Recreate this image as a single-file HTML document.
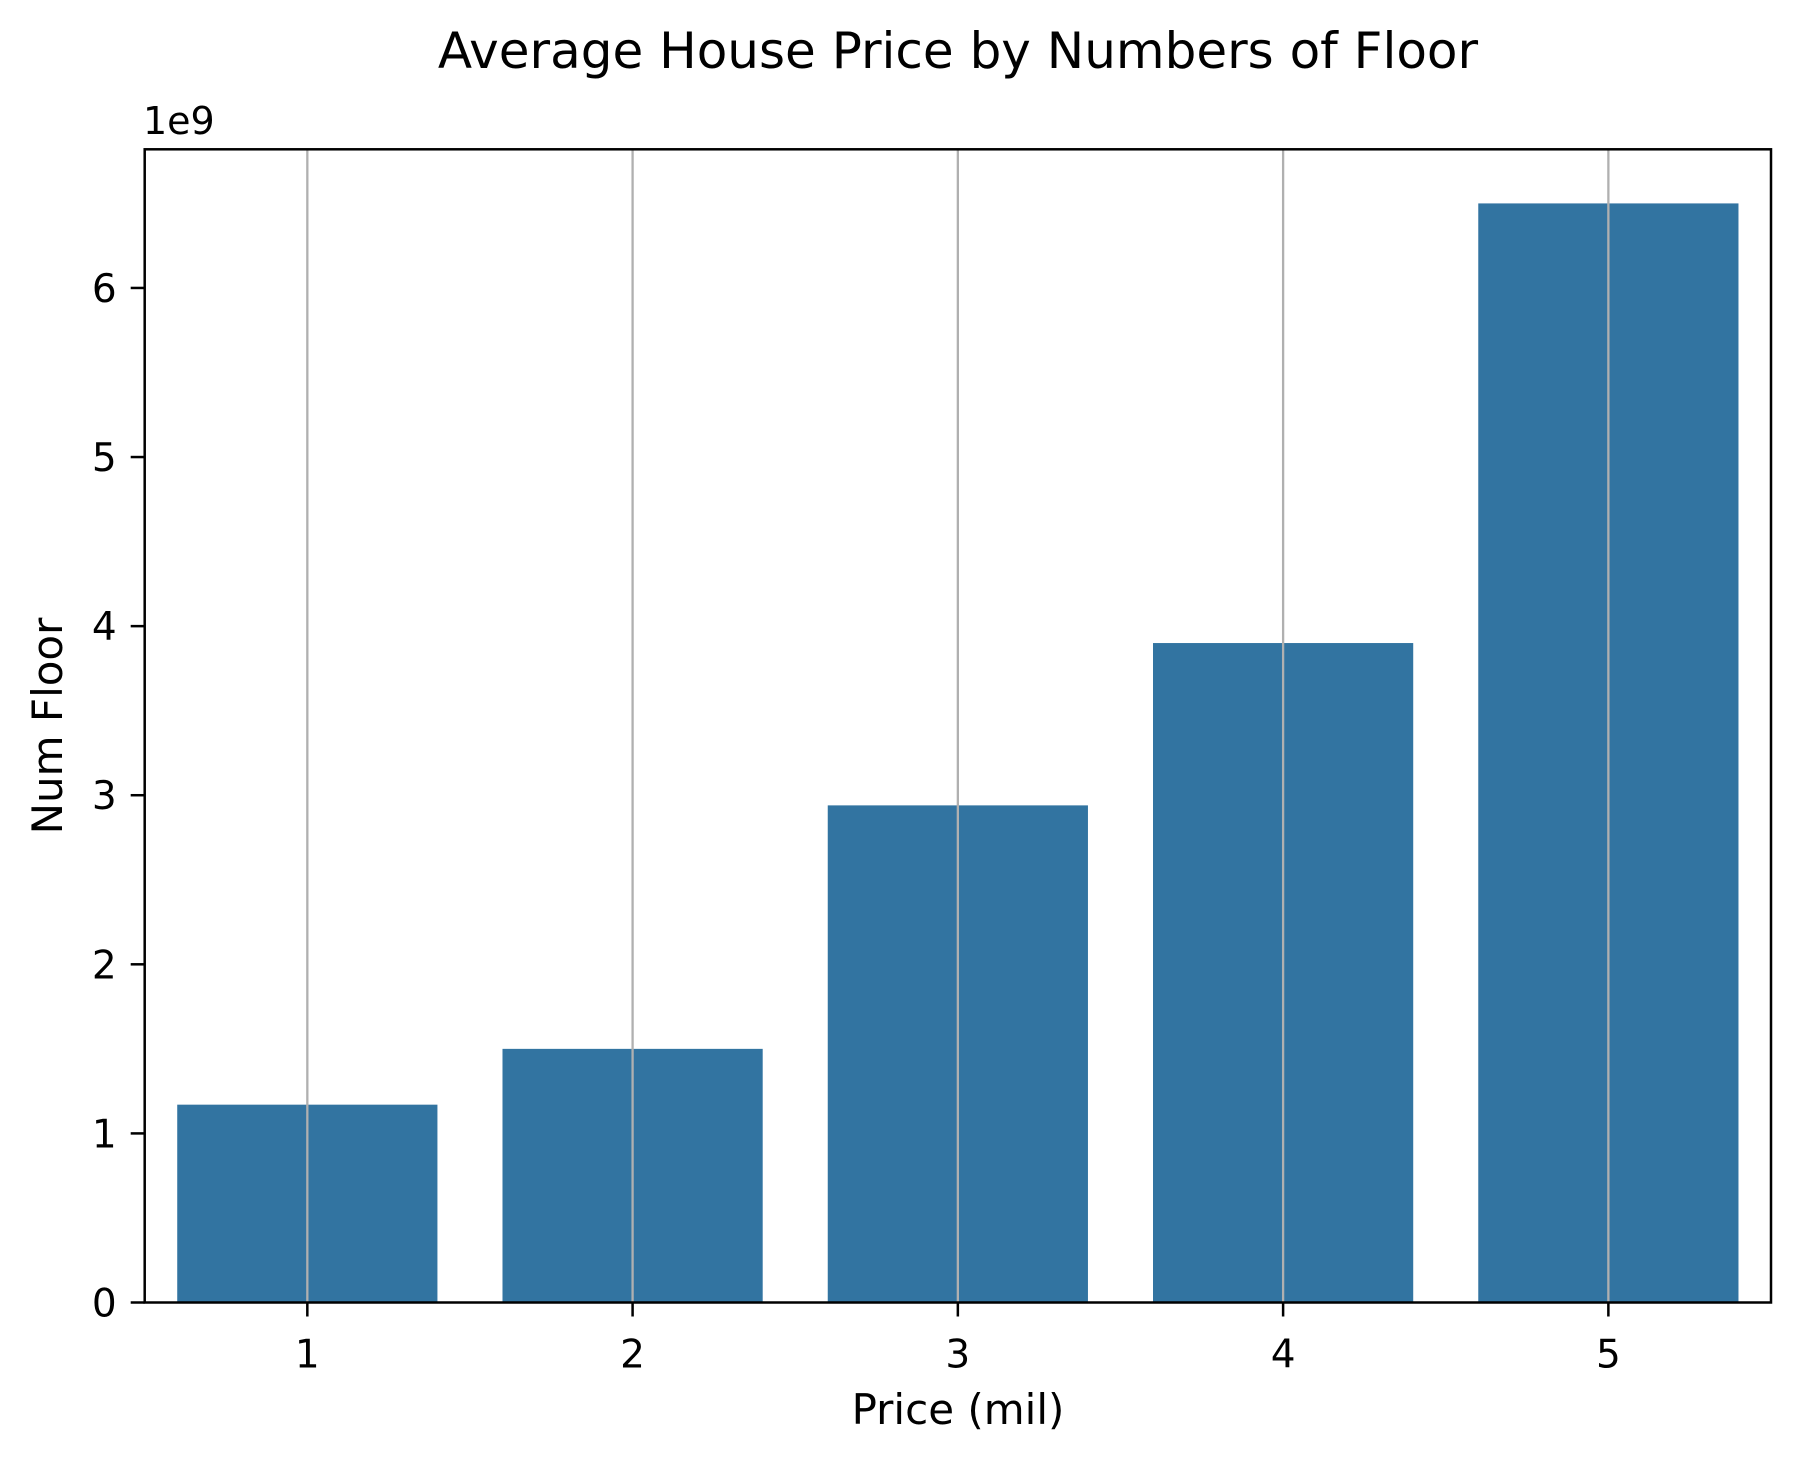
<!DOCTYPE html>
<html><head><meta charset="utf-8"><style>
html,body{margin:0;padding:0;background:#fff;}
svg text{font-family:"DejaVu Sans","Liberation Sans",sans-serif;fill:#000;}
</style></head><body>
<svg id="chart" width="1801" height="1463" viewBox="0 0 1801 1463" xmlns="http://www.w3.org/2000/svg">
<rect width="1801" height="1463" fill="#fff"/>
<text x="958" y="68" font-size="50" text-anchor="middle">Average House Price by Numbers of Floor</text>
<text x="143" y="134" font-size="38">1e9</text>
<text x="958" y="1424" font-size="42" text-anchor="middle">Price (mil)</text>
<text transform="translate(62,726) rotate(-90)" font-size="42" text-anchor="middle">Num Floor</text>
<g id="plot"></g>
</svg>
<script>
const categories = ["1","2","3","4","5"];
const values = [1.17, 1.50, 2.94, 3.90, 6.50];
const yTicks = [0,1,2,3,4,5,6];
const L=144.7, R=1771, T=149.3, B=1302.5, YMAX=6.82;
const ns="http://www.w3.org/2000/svg";
const g=document.getElementById('plot');
const step=(R-L)/categories.length;
function xs(i){return L+step*(i+0.5);}
function ys(v){return B-(B-T)*v/YMAX;}
function mk(tag,attrs){const e=document.createElementNS(ns,tag);for(const k in attrs)e.setAttribute(k,attrs[k]);g.appendChild(e);return e;}
categories.forEach((c,i)=>{
  const bw=step*0.8;
  const r=mk('rect',{x:xs(i)-bw/2,y:ys(values[i]),width:bw,height:B-ys(values[i]),fill:'#3274a1'});
  
  
});
categories.forEach((c,i)=>{
  const l=mk('line',{x1:xs(i),x2:xs(i),y1:T,y2:B,stroke:'#b0b0b0','stroke-width':2.3});
  
  
  const t=mk('line',{x1:xs(i),x2:xs(i),y1:B,y2:B+14,stroke:'#000','stroke-width':2.5});
  
  
  const tx=mk('text',{x:xs(i),y:B+65,'font-size':39,'text-anchor':'middle'});
  tx.textContent=c;
  
  
});
yTicks.forEach(v=>{
  const t=mk('line',{x1:L-14,x2:L,y1:ys(v),y2:ys(v),stroke:'#000','stroke-width':2.5});
  
  
  const tx=mk('text',{x:L-28,y:ys(v)+14,'font-size':39,'text-anchor':'end'});
  tx.textContent=v;
  
  
});
const f=mk('rect',{x:L,y:T,width:R-L,height:B-T,fill:'none',stroke:'#000','stroke-width':2.5});


</script>
</body></html>
